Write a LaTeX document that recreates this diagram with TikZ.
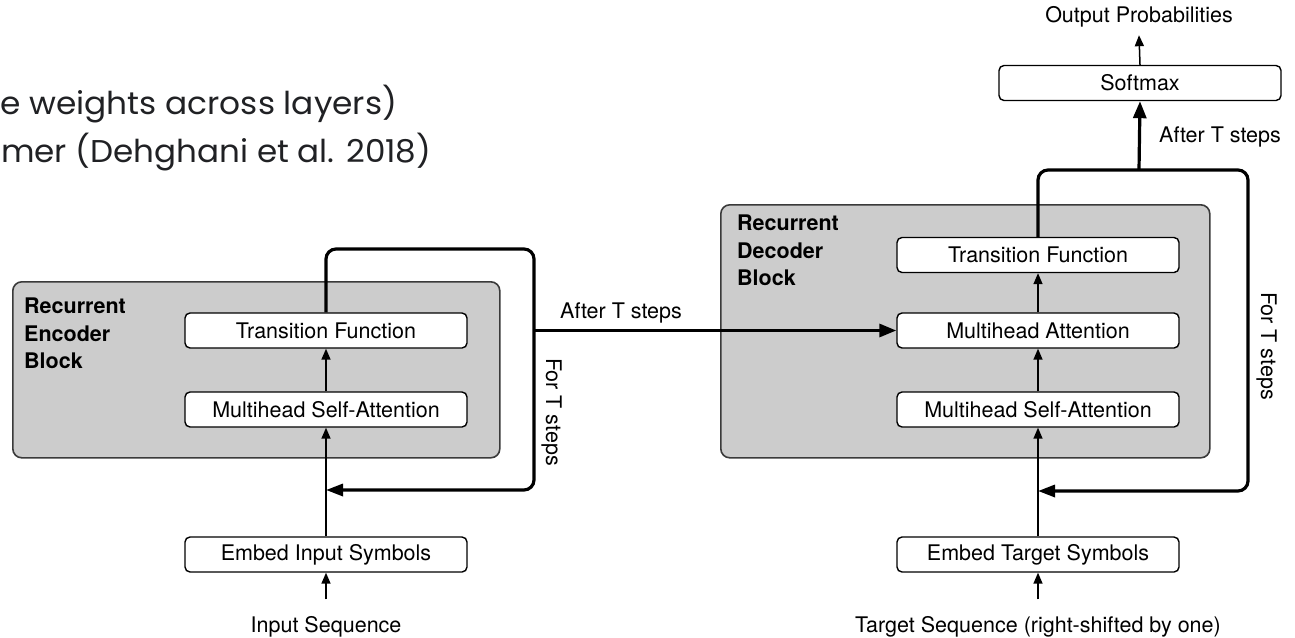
\documentclass[tikz,border=0pt]{standalone}
\usepackage{fontspec}
\setmainfont{TeX Gyre Heros}
\newfontfamily\slidefont{Poppins}
\usetikzlibrary{arrows.meta}
\definecolor{blockgray}{HTML}{CCCCCC}
\definecolor{blockedge}{HTML}{3A3A3A}
\definecolor{slideink}{HTML}{202124}
\newcommand{\slideline}[2]{\resizebox{#1}{\height}{\slidefont\fontsize{31.5}{36}\selectfont #2}}
\begin{document}
\begin{tikzpicture}[x=1pt,y=-1pt,
  lbl/.style={font=\fontsize{21.5}{25}\selectfont, inner sep=0pt},
  stage/.style={draw=black, line width=1.4pt, fill=white, rounded corners=5pt,
    minimum width=282pt, minimum height=35pt, inner sep=0pt,
    font=\fontsize{21.5}{25}\selectfont},
  block/.style={draw=blockedge, line width=1.6pt, fill=blockgray, rounded corners=9pt,
    inner sep=0pt, anchor=north west},
  blocktitle/.style={font=\bfseries\fontsize{21.5}{27.5}\selectfont, align=left,
    anchor=north west, inner sep=0pt},
  flow/.style={line width=1.5pt, -{Triangle[length=11pt,width=9pt]}},
  recur/.style={line width=3.2pt, rounded corners=10pt, -{Triangle[length=17pt,width=12pt]}},
  bigflow/.style={line width=3.2pt, -{Triangle[length=17pt,width=13pt]}},
  slide/.style={text=slideink, inner sep=0pt, anchor=base west}
]
\useasboundingbox (0,0) rectangle (1295,637);

% slide text
\node[slide] (line1) at (0,114) {\slideline{397pt}{e weights across layers)}};
\node[slide] (line2) at (1,162) {\slideline{430pt}{mer (Dehghani et al. 2018)}};

% ---------------- encoder ----------------
\node[block, minimum width=487pt, minimum height=176pt] (encblock) at (12,281) {};
\node[blocktitle] (enctitle) at (24,298) {Recurrent\\Encoder\\Block};
\node[stage] (enctrans) at (326,330.5) {Transition Function};
\node[stage] (encmsa) at (326,409.5) {Multihead Self-Attention};
\node[stage] (embedin) at (326,554.5) {Embed Input Symbols};
\node[lbl, anchor=base, outer ysep=16.6pt] (inseq) at (326,632) {Input Sequence};

\draw[flow] (inseq.north) -- (embedin.south);
\draw[flow] (embedin.north) -- (encmsa.south);
\draw[flow] (encmsa.north) -- (enctrans.south);

\coordinate (enccorner) at (534,249);
\coordinate (encjoin) at (326,490);
\coordinate (encexit) at (534,330.5);
\draw[recur] (enctrans.north) |- (enccorner) |- (encjoin);
\node[lbl, rotate=-90, anchor=base] (encfor) at (546,412) {For T steps};

% ---------------- decoder ----------------
\node[block, minimum width=489pt, minimum height=253pt] (decblock) at (720,204) {};
\node[blocktitle] (dectitle) at (737,215) {Recurrent\\Decoder\\Block};
\node[stage] (dectrans) at (1038,255) {Transition Function};
\node[stage] (decattn) at (1038,330.5) {Multihead Attention};
\node[stage] (decmsa) at (1038,409.5) {Multihead Self-Attention};
\node[stage] (embedtgt) at (1038,554.5) {Embed Target Symbols};
\node[lbl, anchor=base, outer ysep=16.6pt] (tgtseq) at (1038,632) {Target Sequence (right-shifted by one)};

\draw[flow] (tgtseq.north) -- (embedtgt.south);
\draw[flow] (embedtgt.north) -- (decmsa.south);
\draw[flow] (decmsa.north) -- (decattn.south);
\draw[flow] (decattn.north) -- (dectrans.south);

% encoder output feeds the decoder attention
\draw[bigflow] (encexit) -- (decattn.west);
\node[lbl, anchor=base west] (encafter) at (560,318) {After T steps};

\coordinate (deccorner) at (1248,170);
\coordinate (decjoin) at (1038,491);
\coordinate (decsplit) at (1139,170);
\draw[recur] (dectrans.north) |- (deccorner) |- (decjoin);
\node[lbl, rotate=-90, anchor=base] (decfor) at (1261,346) {For T steps};

% output head
\node[stage] (softmax) at (1140,83) {Softmax};
\node[lbl, anchor=base, outer ysep=8.5pt] (outprob) at (1139,22) {Output Probabilities};
\draw[bigflow] (decsplit) -- (softmax.south);
\draw[flow] (softmax.north) -- (outprob.south);
\node[lbl, anchor=base west] (decafter) at (1159,142) {After T steps};
\end{tikzpicture}
\end{document}
